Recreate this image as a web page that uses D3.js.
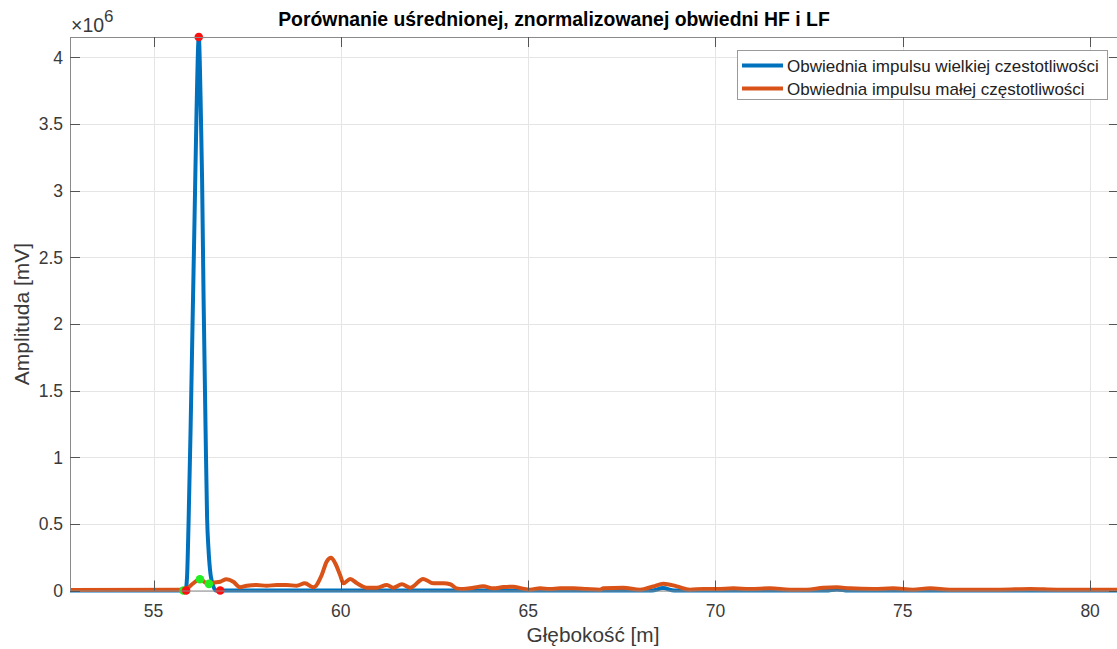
<!DOCTYPE html>
<html>
<head>
<meta charset="utf-8">
<script src="https://cdn.jsdelivr.net/npm/d3@7/dist/d3.min.js"></script>
<style>
  html, body { margin: 0; padding: 0; background: #fff; }
  svg { display: block; font-family: "Liberation Sans", Arial, Helvetica, sans-serif; }
</style>
</head>
<body>
<svg id="chart" width="1117" height="649"></svg>
<script>
// Averaged, normalised envelopes of the HF and LF pulses (amplitude in units of 10^6 mV)
const hfDepth = [52.77, 55.80, 55.855, 55.895, 55.935, 55.989, 56.042, 56.096, 56.149, 56.208,
                 56.256, 56.296, 56.336, 56.390, 56.430, 56.470, 56.523, 56.577, 56.657,
                 68.30, 68.60, 68.90, 72.95, 73.24, 73.55, 80.80];
const hfAmp   = [0, 0, 0, 0.10, 0.50, 1.20, 2.00, 2.80, 3.60, 4.153,
                 3.70, 3.10, 2.20, 1.20, 0.55, 0.30, 0.12, 0.05, 0,
                 0, 0.018, 0, 0, 0.008, 0, 0];

const lfDepth = [52.77, 55.80, 55.87, 56.06, 56.24, 56.37, 56.48, 56.60, 56.78, 56.95,
                 57.13, 57.31, 57.49, 57.75, 58.02, 58.29, 58.56, 58.82, 59.04, 59.27,
                 59.49, 59.62, 59.74, 59.85, 59.98, 60.07, 60.25, 60.43, 60.69, 60.96,
                 61.23, 61.40, 61.63, 61.85, 62.20, 62.47, 62.74, 62.92, 63.09, 63.27,
                 63.54, 63.80, 64.07, 64.34, 64.60, 64.83, 65.05, 65.32, 65.58, 65.85,
                 66.21, 66.56, 66.92, 67.01, 67.54, 67.99, 68.34, 68.61, 68.97, 69.32,
                 69.68, 70.03, 70.48, 70.92, 71.46, 71.99, 72.44, 72.88, 73.24, 73.59,
                 74.21, 74.74, 75.27, 75.73, 76.26, 76.88, 77.60, 78.40, 79.12, 79.73, 80.80];
const lfAmp   = [0.004, 0.006, 0.010, 0.054, 0.084, 0.062, 0.050, 0.059, 0.066, 0.084,
                 0.066, 0.024, 0.036, 0.041, 0.036, 0.041, 0.041, 0.036, 0.054, 0.024,
                 0.116, 0.216, 0.246, 0.204, 0.116, 0.054, 0.087, 0.054, 0.021, 0.021,
                 0.041, 0.021, 0.047, 0.021, 0.087, 0.054, 0.054, 0.047, 0.016, 0.011,
                 0.021, 0.031, 0.016, 0.026, 0.029, 0.016, 0.006, 0.016, 0.011, 0.016,
                 0.016, 0.011, 0.006, 0.016, 0.021, 0.006, 0.031, 0.051, 0.031, 0.006,
                 0.011, 0.011, 0.016, 0.011, 0.016, 0.006, 0.006, 0.021, 0.024, 0.016,
                 0.011, 0.016, 0.006, 0.016, 0.006, 0.006, 0.006, 0.011, 0.006, 0.006, 0.006];

// Detected pulse limits and maxima
const redDepth   = [56.208, 55.87, 56.78];
const redAmp     = [4.153, 0, 0];
const greenDepth = [55.80, 56.24, 56.48];
const greenAmp   = [0, 0.084, 0.050];

const xTicks = [55, 60, 65, 70, 75, 80];
const yTicks = [0, 0.5, 1, 1.5, 2, 2.5, 3, 3.5, 4];

const titleText  = "Porównanie uśrednionej, znormalizowanej obwiedni HF i LF";
const xLabelText = "Głębokość [m]";
const yLabelText = "Amplituda [mV]";
const legendText = ["Obwiednia impulsu wielkiej czestotliwości", "Obwiednia impulsu małej częstotliwości"];

const hfColor = "#0072BD";
const lfColor = "#D95319";

const svg = d3.select("#chart");
const plot = { left: 70, top: 37, right: 1119, bottom: 590.5 };

const x = d3.scaleLinear().domain([52.771, 80.771]).range([plot.left, plot.right]);
const y = d3.scaleLinear().domain([0, 4.153]).range([plot.bottom, plot.top]);

svg.append("defs").append("clipPath").attr("id", "clip")
  .append("rect")
  .attr("x", plot.left).attr("y", plot.top - 6)
  .attr("width", plot.right - plot.left).attr("height", plot.bottom - plot.top + 10);

// grid
const grid = svg.append("g").attr("stroke", "#e5e5e5").attr("stroke-width", 1);
xTicks.forEach(t => grid.append("line")
  .attr("x1", Math.round(x(t)) + 0.5).attr("x2", Math.round(x(t)) + 0.5)
  .attr("y1", plot.top).attr("y2", plot.bottom));
yTicks.forEach(t => grid.append("line")
  .attr("x1", plot.left).attr("x2", plot.right)
  .attr("y1", Math.round(y(t)) + 0.5).attr("y2", Math.round(y(t)) + 0.5));

// envelopes
const line = d3.line().x(d => x(d[0])).y(d => y(d[1])).curve(d3.curveMonotoneX);
const curves = svg.append("g").attr("clip-path", "url(#clip)");
curves.append("path")
  .attr("d", line(d3.zip(hfDepth, hfAmp)))
  .attr("fill", "none").attr("stroke", hfColor).attr("stroke-width", 4)
  .attr("stroke-linejoin", "round");
curves.append("path")
  .attr("d", line(d3.zip(lfDepth, lfAmp)))
  .attr("fill", "none").attr("stroke", lfColor).attr("stroke-width", 4)
  .attr("stroke-linejoin", "round");

// markers
const marks = svg.append("g");
d3.zip(greenDepth, greenAmp).forEach(d => marks.append("circle")
  .attr("cx", x(d[0])).attr("cy", y(d[1])).attr("r", 4.3).attr("fill", "#22ee22"));
d3.zip(redDepth, redAmp).forEach(d => marks.append("circle")
  .attr("cx", x(d[0])).attr("cy", y(d[1])).attr("r", 4.3).attr("fill", "#ff1010"));

// axes frame and inward ticks
const axesG = svg.append("g");
axesG.append("line").attr("x1", plot.left + 0.5).attr("x2", plot.left + 0.5)
  .attr("y1", plot.top).attr("y2", plot.bottom + 0.5).attr("stroke", "#8a8a8a");
axesG.append("line").attr("x1", plot.left).attr("x2", plot.right)
  .attr("y1", plot.top + 0.5).attr("y2", plot.top + 0.5).attr("stroke", "#8a8a8a");
axesG.append("line").attr("x1", plot.left).attr("x2", plot.right)
  .attr("y1", plot.bottom + 0.5).attr("y2", plot.bottom + 0.5).attr("stroke", "#8a8a8a");

const tickLen = 10;
xTicks.forEach(t => {
  const xp = Math.round(x(t)) + 0.5;
  axesG.append("line").attr("x1", xp).attr("x2", xp)
    .attr("y1", plot.bottom).attr("y2", plot.bottom - tickLen).attr("stroke", "#555");
  axesG.append("line").attr("x1", xp).attr("x2", xp)
    .attr("y1", plot.top).attr("y2", plot.top + tickLen).attr("stroke", "#555");
});
yTicks.forEach(t => {
  const yp = Math.round(y(t)) + 0.5;
  axesG.append("line").attr("x1", plot.left).attr("x2", plot.left + tickLen)
    .attr("y1", yp).attr("y2", yp).attr("stroke", "#555");
  axesG.append("line").attr("x1", plot.right).attr("x2", plot.right - tickLen)
    .attr("y1", yp).attr("y2", yp).attr("stroke", "#555");
});

// tick labels
const fmt = d3.format("~g");
const labels = svg.append("g").attr("fill", "#3a3a3a").attr("font-size", 17.5);
xTicks.forEach(t => labels.append("text")
  .attr("x", x(t)).attr("y", 617).attr("text-anchor", "middle").text(fmt(t)));
yTicks.forEach(t => labels.append("text")
  .attr("x", 63).attr("y", y(t) + 6.3).attr("text-anchor", "end").text(fmt(t)));

// exponent label
const expo = svg.append("text").attr("x", 71).attr("y", 32).attr("fill", "#3a3a3a").attr("font-size", 19.5);
expo.append("tspan").text("×10");
expo.append("tspan").attr("dy", -10).attr("font-size", 17).text("6");

// title and axis labels
svg.append("text").attr("x", 554).attr("y", 26).attr("text-anchor", "middle")
  .attr("font-weight", "bold").attr("font-size", 19.4).attr("fill", "#000").text(titleText);
svg.append("text").attr("x", 593).attr("y", 642).attr("text-anchor", "middle")
  .attr("font-size", 20.8).attr("fill", "#3a3a3a").text(xLabelText);
svg.append("text").attr("transform", "translate(29,314) rotate(-90)").attr("text-anchor", "middle")
  .attr("font-size", 21).attr("fill", "#3a3a3a").text(yLabelText);

// legend
const leg = svg.append("g");
leg.append("rect").attr("x", 737.5).attr("y", 50.5).attr("width", 370).attr("height", 49)
  .attr("fill", "#fff").attr("stroke", "#9a9a9a");
[hfColor, lfColor].forEach((c, i) => {
  const ly = 65.5 + i * 23;
  leg.append("line").attr("x1", 742).attr("x2", 783).attr("y1", ly).attr("y2", ly)
    .attr("stroke", c).attr("stroke-width", 4);
  leg.append("text").attr("x", 787).attr("y", ly + 6).attr("font-size", 17)
    .attr("fill", "#222").text(legendText[i]);
});
</script>
</body>
</html>
